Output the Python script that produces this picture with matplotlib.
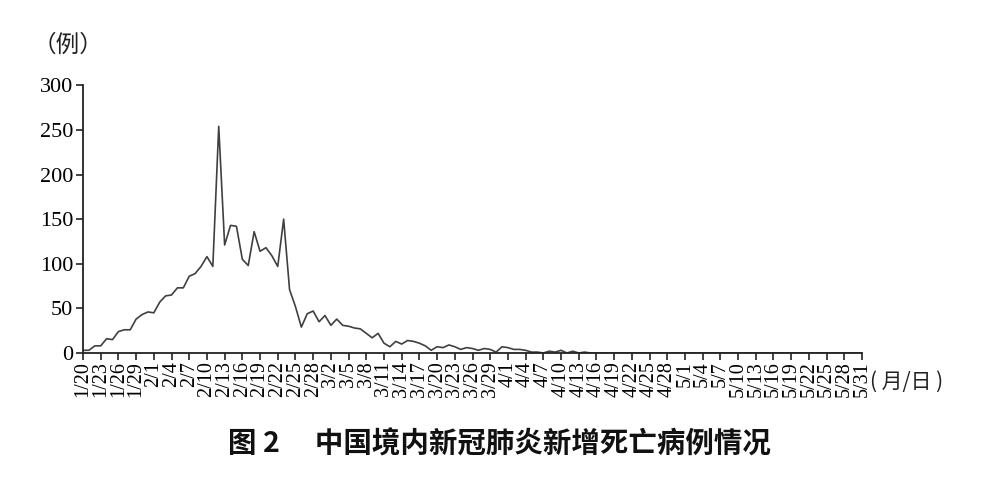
import numpy as np
import pandas as pd
import matplotlib
matplotlib.use("Agg")
import matplotlib.pyplot as plt

# daily new deaths, 1/20 .. 5/31 (2020)
dates = pd.date_range("2020-01-20", "2020-05-31", freq="D")
jan = [3, 3, 8, 8, 16, 15, 24, 26, 26, 38, 43, 46]
feb = [45, 57, 64, 65, 73, 73, 86, 89, 97, 108, 97, 254, 121, 143, 142, 105, 98,
       136, 114, 118, 109, 97, 150, 71, 52, 29, 44, 47, 35]
mar = [42, 31, 38, 31, 30, 28, 27, 22, 17, 22, 11, 7, 13, 10, 14, 13, 11, 8, 3, 7,
       6, 9, 7, 4, 6, 5, 3, 5, 4, 1, 7]
apr = [6, 4, 4, 3, 1, 1, 0, 2, 1, 3, 0, 2, 0, 1] + [0] * 16
may = [0] * 31
deaths = jan + feb + mar + apr + may

yticks = [0, 50, 100, 150, 200, 250, 300]
tick_idx = list(range(0, len(dates), 3))
tick_labels = [f"{dates[i].month}/{dates[i].day}" for i in tick_idx]

serif = "Liberation Serif"
cjk = ["Noto Sans CJK SC", "DejaVu Sans"]

fig = plt.figure(figsize=(10, 4.93), dpi=100)
ax = fig.add_axes([0.083, 0.284, 0.779, 0.543])

x = np.arange(len(deaths))
ax.plot(x, deaths, color="#404040", lw=1.2)

ax.set_xlim(0, len(deaths) - 1)
ax.set_ylim(0, 300)
ax.set_yticks(yticks)
ax.set_yticklabels([str(v) for v in yticks], fontsize=16, family=serif)
ax.set_xticks(tick_idx)
ax.set_xticklabels(tick_labels, rotation=90, fontsize=14.5, family=serif)

for s in ["top", "right"]:
    ax.spines[s].set_visible(False)
for s in ["left", "bottom"]:
    ax.spines[s].set_linewidth(1.3)
    ax.spines[s].set_color("#222222")
ax.tick_params(axis="both", direction="out", length=5, width=1.2, color="#222222")
ax.tick_params(axis="x", pad=1)
ax.tick_params(axis="y", pad=2)

fig.text(0.033, 0.909, "（例）", fontsize=17, family=cjk, va="center", ha="left", color="#222222")
fig.text(0.870, 0.226, "( 月/日 )", fontsize=15, family=cjk, va="center", ha="left", color="#222222")
fig.text(0.499, 0.099, "图 2\u3000 中国境内新冠肺炎新增死亡病例情况", fontsize=20.5,
         family=cjk, fontweight="bold", ha="center", va="center", color="#111111")

fig.savefig("out.png", dpi=100)
